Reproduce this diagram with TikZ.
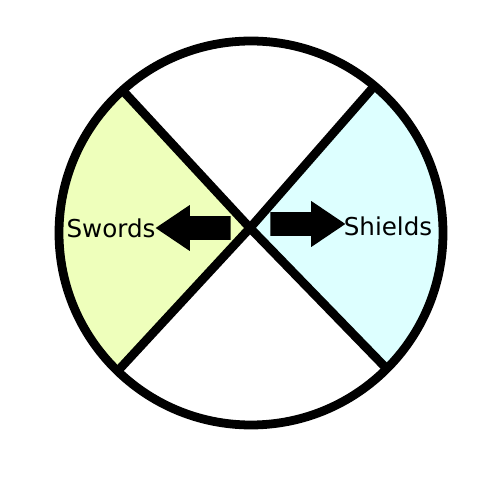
\documentclass[tikz,border=0pt]{standalone}
\usepackage{fontspec}
\setmainfont{DejaVu Sans}
\usetikzlibrary{shapes.arrows}
\definecolor{swordfill}{HTML}{EEFFBB}
\definecolor{shieldfill}{HTML}{DDFFFF}

\begin{document}
\begin{tikzpicture}[
  x=0.02cm, y=0.02cm,
  rim/.style={draw=black, line width=5pt},
  divider/.style={draw=black, line width=5pt, line join=round},
  pointer/.style={single arrow, fill=black, inner sep=0.23cm,
                  minimum height=1.5cm, minimum width=0.92cm,
                  single arrow head extend=0.22cm, single arrow tip angle=68},
  side/.style={font=\fontsize{14}{16}\selectfont}
]
\useasboundingbox (0,0) rectangle (500,500);

% Centre, crossing and rim points
\coordinate (O) at (251,267);
\coordinate (X) at (250,272);
\coordinate (TL) at ([shift={(132:192)}]O);
\coordinate (TR) at ([shift={(50:192)}]O);
\coordinate (BL) at ([shift={(226:192)}]O);
\coordinate (BR) at ([shift={(-45:192)}]O);

% Coloured sectors
\fill[swordfill] (TL) arc[start angle=132, end angle=226, radius=192] -- (X) -- cycle;
\fill[shieldfill] (BR) arc[start angle=-45, end angle=50, radius=192] -- (X) -- cycle;

% Dividers and rim
\draw[divider] (TL) -- (X) -- (BR);
\draw[divider] (TR) -- (X) -- (BL);
\draw[rim] (O) circle [radius=192];

% Pointers and labels
\node[pointer, shape border rotate=180] (leftptr) at (202,272) {};
\node[pointer] (rightptr) at (299,276) {};
\node[side] (swords) at (111,272) {Swords};
\node[side] (shields) at (388,274) {Shields};

\end{tikzpicture}
\end{document}
